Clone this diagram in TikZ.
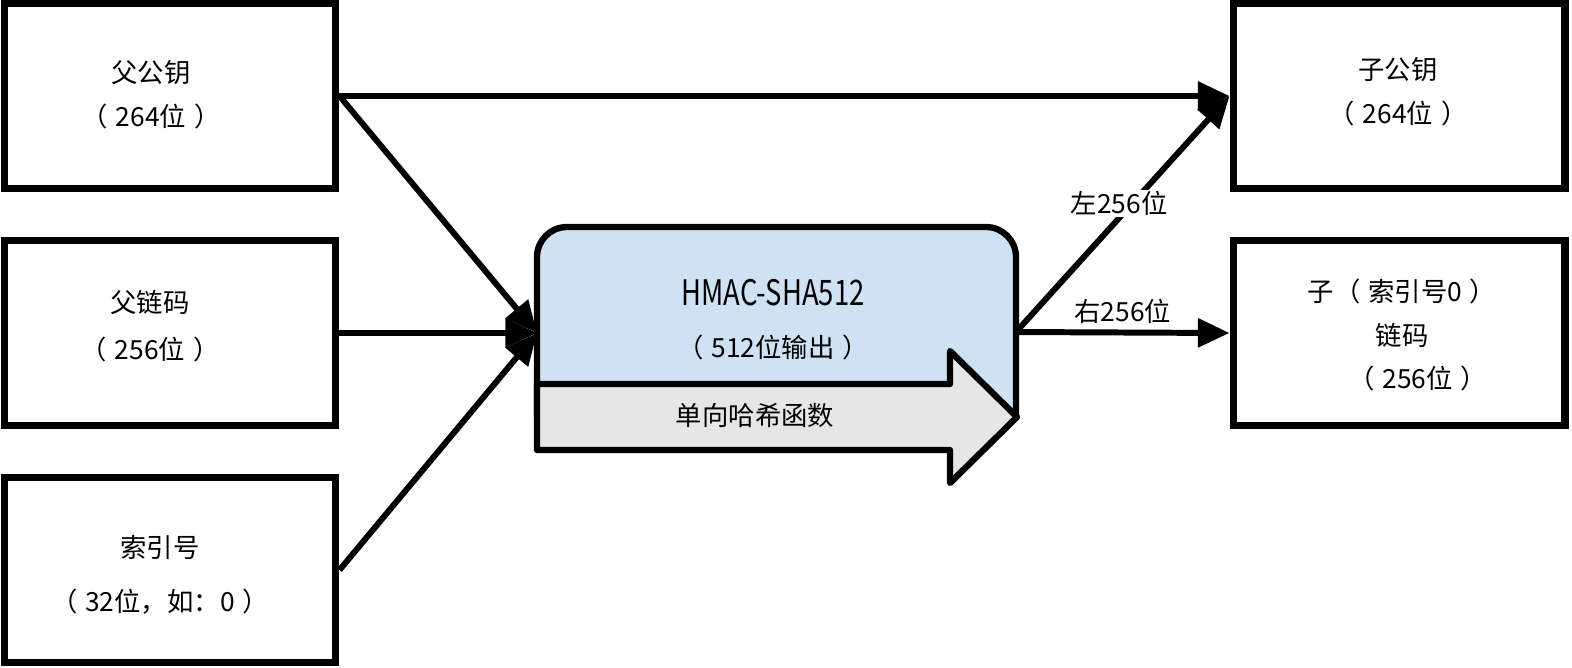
\documentclass[tikz,border=0pt]{standalone}
\usepackage{graphicx}
\usepackage{fontspec}
\setmainfont{Noto Sans CJK SC}
\usetikzlibrary{arrows.meta}
\definecolor{hashblue}{RGB}{207,226,243}
\definecolor{hashgray}{RGB}{230,230,230}
\newcommand{\pgap}{\hspace{0.3em}}
\tikzset{
    keybox/.style={draw, line width=4pt, minimum width=6.64cm, minimum height=3.71cm, inner sep=0pt},
    boxtext/.style={align=center, font=\fontsize{15}{25}\selectfont},
    flow/.style={line width=3.4pt, -{Triangle[length=18pt, width=16pt]}},
    sidelabel/.style={font=\fontsize{15}{18}\selectfont, fill=white, inner sep=1pt},
    hashpart/.style={draw, line width=3.6pt, line join=round}
}

\begin{document}
\begin{tikzpicture}[x=0.02cm, y=-0.02cm]
          \useasboundingbox (0,0) rectangle (1572,667);
          % parent side
          \node [keybox] (ppk) at (170,96) {};
          \node [keybox] (pcc) at (170,333) {};
          \node [keybox] (idx) at (170,570) {};
          \node [boxtext] (ppk-t) at (151,95) {父公钥\\（\pgap 264位\pgap）};
          \node [boxtext] (pcc-t) at (150,326) {父链码\\[2pt]（\pgap 256位\pgap）};
          \node [boxtext] (idx-t) at (160,575) {索引号\\[6pt]（\pgap 32位，如：0\pgap）};
          % child side
          \node [keybox] (cpk) at (1399,96) {};
          \node [keybox] (ccc) at (1399,333) {};
          \node [boxtext] (cpk-t) at (1398,92) {子公钥\\（\pgap 264位\pgap）};
          \node [boxtext] (ccc-t) at (1402,335) {子（\pgap 索引号0\pgap）\\链码\\\hspace{1.2em}（\pgap 256位\pgap）};
          % hash function
          \draw [hashpart, fill=hashblue] (537,416) -- (537,257)
            arc [start angle=180, end angle=90, radius=0.6cm] -- (986,227)
            arc [start angle=90, end angle=0, radius=0.6cm] -- (1016,416) -- cycle;
          \draw [hashpart, fill=hashgray] (537,384) -- (950,384) -- (950,351) -- (1017,417)
            -- (950,483) -- (950,450) -- (537,450) -- cycle;
          \node [font=\fontsize{20}{24}\selectfont] (hmac) at (773,293) {\scalebox{0.78}[1]{HMAC-SHA512}};
          \node [font=\fontsize{15}{18}\selectfont] (hout-t) at (773,347) {（\pgap 512位输出\pgap）};
          \node [font=\fontsize{15}{18}\selectfont] (owf) at (755,415) {单向哈希函数};
          \coordinate (hin) at (537,333);
          \coordinate (hout) at (1016,332);
          % connectors
          \draw [flow] (ppk.east) -- (cpk.west);
          \draw [flow] (ppk.east) -- (hin);
          \draw [flow] (pcc.east) -- (hin);
          \draw [flow] (idx.east) -- (hin);
          \draw [flow] (hout) -- node [sidelabel, pos=0.5, yshift=6pt, xshift=-2pt] {左256位} (cpk.west);
          \draw [flow] (hout) -- node [font=\fontsize{15}{18}\selectfont, above] {右256位} (ccc.west);
\end{tikzpicture}
\end{document}
